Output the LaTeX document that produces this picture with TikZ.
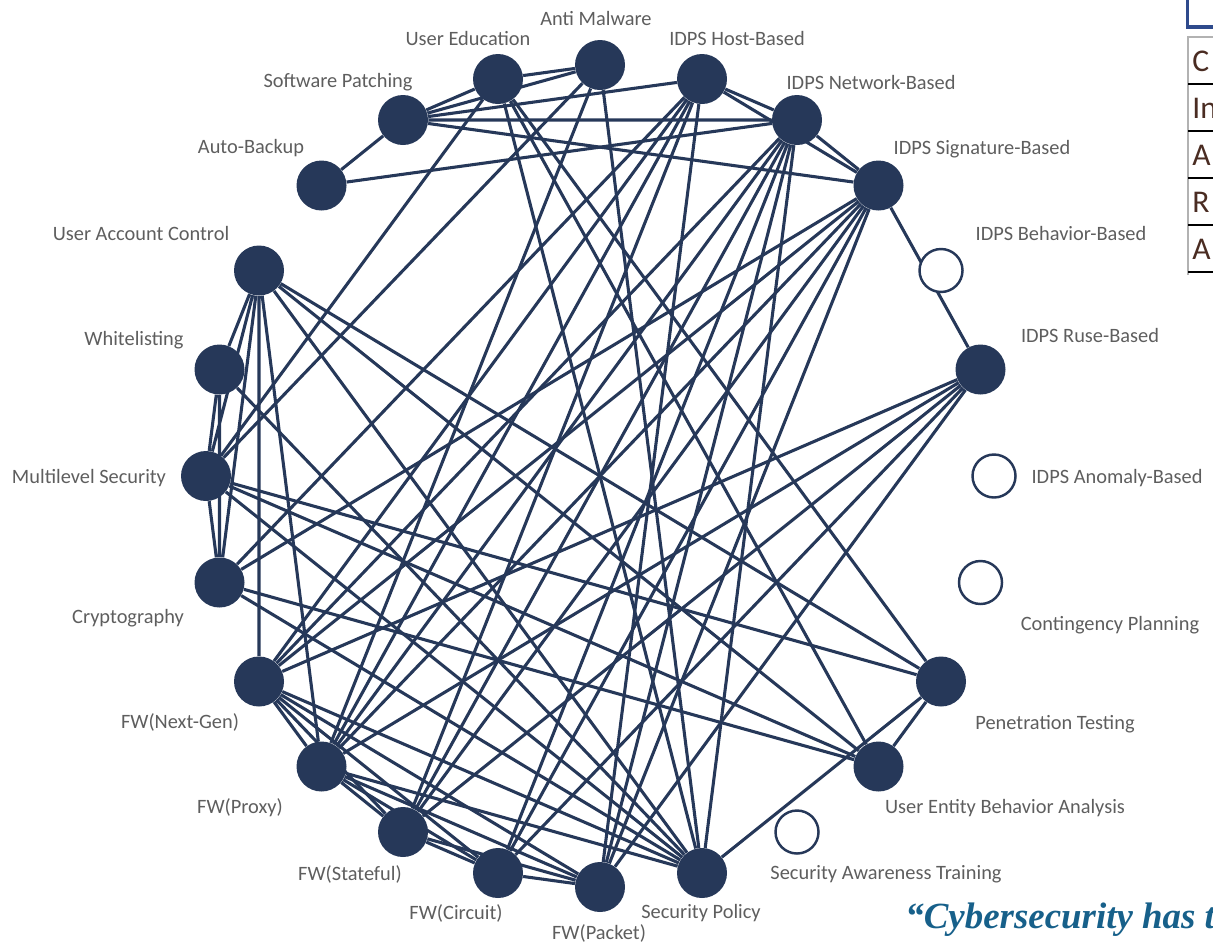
\documentclass[tikz,border=0pt]{standalone}
\usepackage{fontspec}
\setmainfont{Carlito}
\newfontfamily\quotefont{Liberation Serif}
\usetikzlibrary{backgrounds}

\definecolor{navy}{HTML}{263859}
\definecolor{labelgray}{HTML}{5E5E5E}
\definecolor{quoteblue}{HTML}{17608A}
\definecolor{tabblue}{HTML}{2E4A8C}
\definecolor{tabtext}{HTML}{4A2C22}

\tikzset{
    used/.style={circle, fill=navy, minimum size=1cm, inner sep=0pt},
    unused/.style={circle, draw=navy, fill=white, line width=1.4pt, minimum size=0.86cm, inner sep=0pt},
    link/.style={draw=navy, line width=1.75pt},
    lbl/.style={text=labelgray, font=\fontsize{11.6}{14}\selectfont, inner sep=0pt},
    cell/.style={anchor=west, text=tabtext, font=\fontsize{18}{20}\selectfont, inner sep=0pt},
}

\begin{document}
\begin{tikzpicture}
        \useasboundingbox (0,0) rectangle (24.26,-18.9);
        \clip (0,0) rectangle (24.26,-18.9);

        \node[used] (am) at (12.00,-1.30) {};
        \node[used] (hb) at (14.04,-1.58) {};
        \node[used] (nb) at (15.94,-2.40) {};
        \node[used] (sb) at (17.57,-3.71) {};
        \node[unused] (bb) at (18.82,-5.41) {};
        \node[used] (rb) at (19.61,-7.39) {};
        \node[unused] (an) at (19.88,-9.52) {};
        \node[unused] (cp) at (19.61,-11.65) {};
        \node[used] (pt) at (18.82,-13.63) {};
        \node[used] (ueba) at (17.57,-15.33) {};
        \node[unused] (sat) at (15.94,-16.64) {};
        \node[used] (pol) at (14.04,-17.46) {};
        \node[used] (pk) at (12.00,-17.74) {};
        \node[used] (ci) at (9.96,-17.46) {};
        \node[used] (st) at (8.06,-16.64) {};
        \node[used] (px) at (6.43,-15.33) {};
        \node[used] (ng) at (5.18,-13.63) {};
        \node[used] (cr) at (4.39,-11.65) {};
        \node[used] (mls) at (4.12,-9.52) {};
        \node[used] (wl) at (4.39,-7.39) {};
        \node[used] (uac) at (5.18,-5.41) {};
        \node[used] (ab) at (6.43,-3.71) {};
        \node[used] (sp) at (8.06,-2.40) {};
        \node[used] (ue) at (9.96,-1.58) {};

        \node[lbl] (l-am) at (11.92,-0.36) {Anti Malware};
        \node[lbl] (l-ue) at (9.36,-0.76) {User Education};
        \node[lbl] (l-hb) at (14.74,-0.76) {IDPS Host-Based};
        \node[lbl] (l-sp) at (6.76,-1.64) {Software Patching};
        \node[lbl] (l-nb) at (17.42,-1.64) {IDPS Network-Based};
        \node[lbl] (l-ab) at (5.02,-2.96) {Auto-Backup};
        \node[lbl] (l-sb) at (19.64,-2.98) {IDPS Signature-Based};
        \node[lbl] (l-uac) at (2.82,-4.66) {User Account Control};
        \node[lbl] (l-bb) at (21.22,-4.66) {IDPS Behavior-Based};
        \node[lbl] (l-wl) at (2.68,-6.80) {Whitelisting};
        \node[lbl] (l-rb) at (21.80,-6.70) {IDPS Ruse-Based};
        \node[lbl] (l-mls) at (1.78,-9.56) {Multilevel Security};
        \node[lbl] (l-an) at (22.34,-9.56) {IDPS Anomaly-Based};
        \node[lbl] (l-cr) at (2.56,-12.36) {Cryptography};
        \node[lbl] (l-cp) at (22.20,-12.50) {Contingency Planning};
        \node[lbl] (l-ng) at (3.60,-14.44) {FW(Next-Gen)};
        \node[lbl] (l-pt) at (21.10,-14.48) {Penetration Testing};
        \node[lbl] (l-px) at (4.80,-16.16) {FW(Proxy)};
        \node[lbl] (l-ueba) at (20.10,-16.16) {User Entity Behavior Analysis};
        \node[lbl] (l-st) at (7.00,-17.48) {FW(Stateful)};
        \node[lbl] (l-sat) at (17.72,-17.48) {Security Awareness Training};
        \node[lbl] (l-ci) at (9.12,-18.26) {FW(Circuit)};
        \node[lbl] (l-pk) at (11.98,-18.66) {FW(Packet)};
        \node[lbl] (l-pol) at (14.02,-18.26) {Security Policy};

        \begin{scope}[on background layer]
            \draw[link] (ab) -- (sp) (ab) -- (nb);
            \draw[link] (sp) -- (ue) (sp) -- (am) (sp) -- (hb) (sp) -- (nb) (sp) -- (sb);
            \draw[link] (ue) -- (am) (hb) -- (nb) (hb) -- (sb) (nb) -- (sb) (sb) -- (rb);
            \draw[link] (ue) -- (mls) (ue) -- (pol) (ue) -- (ueba) (ue) -- (pt);
            \draw[link] (am) -- (mls) (am) -- (pol) (am) -- (px);
            \draw[link] (hb) -- (cr) (hb) -- (ng) (hb) -- (px) (hb) -- (st) (hb) -- (pk);
            \draw[link] (nb) -- (ng) (nb) -- (px) (nb) -- (st) (nb) -- (ci) (nb) -- (pk) (nb) -- (pol);
            \draw[link] (sb) -- (cr) (sb) -- (ng) (sb) -- (px) (sb) -- (st) (sb) -- (ci) (sb) -- (pk);
            \draw[link] (rb) -- (ng) (rb) -- (px) (rb) -- (st) (rb) -- (ci) (rb) -- (pk);
            \draw[link] (uac) -- (wl) (uac) -- (mls) (uac) -- (cr) (wl) -- (mls) (wl) -- (cr) (mls) -- (cr);
            \draw[link] (uac) -- (ng) (uac) -- (px) (uac) -- (pt) (uac) -- (ueba) (uac) -- (pol);
            \draw[link] (mls) -- (pt) (mls) -- (ueba) (mls) -- (pol);
            \draw[link] (wl) -- (pol) (cr) -- (pol) (cr) -- (ueba);
            \draw[link] (ng) -- (px) (ng) -- (st) (ng) -- (ci) (ng) -- (pk);
            \draw[link] (px) -- (st) (px) -- (ci) (px) -- (pk);
            \draw[link] (st) -- (ci) (st) -- (pk) (ci) -- (pk);
            \draw[link] (ng) -- (pol) (px) -- (pol) (pol) -- (pt) (ueba) -- (pt);
        \end{scope}

        \draw[tabblue, line width=2pt] (23.75,0.1) -- (23.75,-0.54) -- (24.4,-0.54);
        \draw[gray!60, line width=0.8pt] (23.76,-5.50) -- (23.76,-0.74) -- (24.4,-0.74);
        \draw[black, line width=1.2pt] (23.76,-1.68) -- (24.4,-1.68) (23.76,-2.62) -- (24.4,-2.62)
            (23.76,-3.56) -- (24.4,-3.56) (23.76,-4.50) -- (24.4,-4.50) (23.76,-5.44) -- (24.4,-5.44);
        \node[cell] (c1) at (23.84,-1.22) {C};
        \node[cell] (c2) at (23.84,-2.16) {In};
        \node[cell] (c3) at (23.84,-3.10) {A};
        \node[cell] (c4) at (23.84,-4.04) {R};
        \node[cell] (c5) at (23.84,-4.98) {A};

        \node[anchor=base west, text=quoteblue, inner sep=0pt,
            font=\quotefont\bfseries\itshape\fontsize{21}{25}\selectfont] (quote) at (18.10,-18.56) {“Cybersecurity has t};
\end{tikzpicture}
\end{document}
